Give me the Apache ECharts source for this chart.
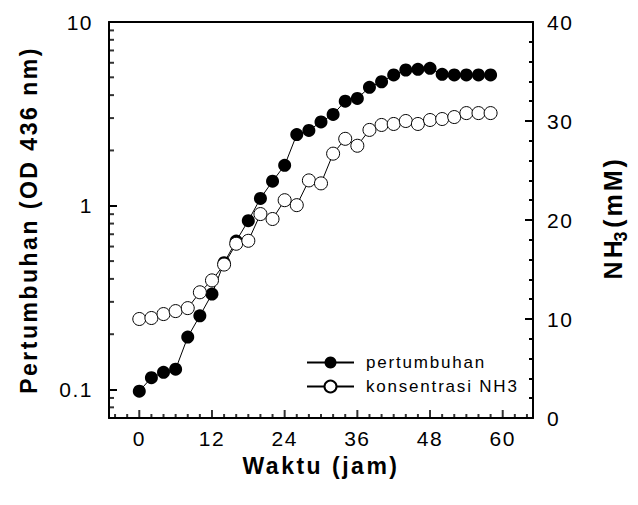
<!DOCTYPE html>
<html>
<head>
<meta charset="utf-8">
<script src="https://cdn.jsdelivr.net/npm/echarts@6/dist/echarts.min.js"></script>
<style>
	html, body { margin: 0; padding: 0; background: #fff; }
	#chart { width: 638px; height: 505px; }
	/* the original figure uses loose letter spacing */
	#chart text { letter-spacing: 1.5px; }
	#chart text[style*="17px"] { letter-spacing: 1.8px; }
	#chart text[style*="bold"] { letter-spacing: 2.5px; }
	#chart text[style*="25px"] { letter-spacing: 3px; }
</style>
</head>
<body>
<div id="chart"></div>
<script>
// waktu (jam)
const hours = [0, 2, 4, 6, 8, 10, 12, 14, 16, 18, 20, 22, 24, 26, 28,
	30, 32, 34, 36, 38, 40, 42, 44, 46, 48, 50, 52, 54, 56, 58];
// pertumbuhan, OD 436 nm
const growth = [0.098, 0.116, 0.124, 0.129, 0.193, 0.252, 0.331, 0.49, 0.643, 0.83,
	1.097, 1.36, 1.66, 2.44, 2.57, 2.86, 3.14, 3.71, 3.84, 4.41,
	4.73, 5.15, 5.48, 5.53, 5.6, 5.19, 5.15, 5.15, 5.15, 5.15];
// konsentrasi NH3, mM
const nh3 = [10.0, 10.1, 10.5, 10.8, 11.1, 12.7, 13.9, 15.5, 17.6, 17.9,
	20.6, 20.1, 22.0, 21.5, 24.0, 23.7, 26.7, 28.2, 27.5, 29.1,
	29.6, 29.7, 30.0, 29.7, 30.1, 30.2, 30.4, 30.8, 30.8, 30.8];

// tick positions
const xMajor = [0, 12, 24, 36, 48, 60];
const xMinor = [-4, -2, 2, 4, 6, 8, 10, 14, 16, 18, 20, 22, 26, 28, 30, 32, 34,
	38, 40, 42, 44, 46, 50, 52, 54, 56, 58, 62, 64];
const logMinor = [0.08, 0.09, 0.2, 0.3, 0.4, 0.5, 0.6, 0.7, 0.8, 0.9,
	2, 3, 4, 5, 6, 7, 8, 9];

const FONT = "'Liberation Sans', Arial, sans-serif";
const X_MIN = -5;
const X_MAX = 65;
const Y_MIN = 0.07;
const Y_MAX = 10;
const black = '#000';
const tickLine = { color: black, width: 2 };

// small tick marks drawn as rect symbols on the library's scales
function tickSeries(data, size, offset) {
	return {
		type: 'scatter',
		xAxisIndex: 0,
		yAxisIndex: 0,
		silent: true,
		clip: false,
		z: 5,
		data: data,
		symbol: 'rect',
		symbolSize: size,
		symbolOffset: offset,
		itemStyle: { color: black }
	};
}

const chart = echarts.init(document.getElementById('chart'), null, { renderer: 'svg' });

const option = {
	animation: false,
	grid: { left: 109, right: 99, top: 22, bottom: 87 },
	legend: {
		orient: 'vertical',
		left: 301,
		top: 349,
		padding: 5,
		itemWidth: 47,
		itemHeight: 15,
		itemGap: 7,
		data: ['pertumbuhan', 'konsentrasi NH3'],
		textStyle: { fontFamily: FONT, fontSize: 17, color: black, padding: [0, 0, 0, 7] }
	},
	xAxis: [{
		type: 'value',
		min: X_MIN,
		max: X_MAX,
		interval: 1,
		name: 'Waktu (jam)',
		nameLocation: 'middle',
		nameGap: 36,
		nameTextStyle: { fontFamily: FONT, fontSize: 23, fontWeight: 'bold', color: black },
		axisLine: { show: true, onZero: false, lineStyle: tickLine },
		axisTick: { show: false },
		axisLabel: {
			margin: 10, fontFamily: FONT, fontSize: 21, color: black,
			formatter: v => (xMajor.indexOf(v) >= 0 ? String(v) : '')
		},
		splitLine: { show: false }
	}, {
		// top edge of the frame
		type: 'value',
		min: X_MIN,
		max: X_MAX,
		position: 'top',
		axisLine: { show: true, onZero: false, lineStyle: tickLine },
		axisTick: { show: false },
		axisLabel: { show: false },
		splitLine: { show: false }
	}],
	yAxis: [{
		type: 'log',
		logBase: 10,
		min: Y_MIN,
		max: Y_MAX,
		name: 'Pertumbuhan (OD 436 nm)',
		nameLocation: 'middle',
		nameRotate: 90,
		nameGap: 69,
		nameTextStyle: { fontFamily: FONT, fontSize: 23, fontWeight: 'bold', color: black },
		axisLine: { show: true, onZero: false, lineStyle: tickLine },
		axisTick: { show: true, inside: true, length: 8, lineStyle: tickLine },
		axisLabel: { showMinLabel: false, margin: 16, fontFamily: FONT, fontSize: 21, color: black },
		splitLine: { show: false }
	}, {
		type: 'value',
		min: 0,
		max: 40,
		interval: 10,
		position: 'right',
		name: '{a|NH}{s|3}{a| (mM)}',
		nameLocation: 'middle',
		nameRotate: 90,
		nameGap: 63,
		nameTextStyle: {
			rich: {
				a: { fontFamily: FONT, fontSize: 25, fontWeight: 'bold', color: black, lineHeight: 34, verticalAlign: 'middle' },
				s: { fontFamily: FONT, fontSize: 18, fontWeight: 'bold', color: black, lineHeight: 34, padding: [16, 0, 0, 0], verticalAlign: 'bottom' }
			}
		},
		axisLine: { show: true, onZero: false, lineStyle: tickLine },
		axisTick: { show: true, inside: true, length: 8, lineStyle: tickLine },
		minorTick: { show: true, splitNumber: 5, length: 4, lineStyle: tickLine },
		axisLabel: { margin: 14, fontFamily: FONT, fontSize: 21, color: black },
		splitLine: { show: false }
	}],
	series: [{
		name: 'pertumbuhan',
		type: 'line',
		xAxisIndex: 0,
		yAxisIndex: 0,
		data: hours.map((h, i) => [h, growth[i]]),
		symbol: 'circle',
		symbolSize: 13,
		itemStyle: { color: black },
		lineStyle: { color: black, width: 1 }
	}, {
		name: 'konsentrasi NH3',
		type: 'line',
		xAxisIndex: 0,
		yAxisIndex: 1,
		data: hours.map((h, i) => [h, nh3[i]]),
		symbol: 'circle',
		symbolSize: 13,
		itemStyle: { color: '#fff', borderColor: black, borderWidth: 1 },
		lineStyle: { color: black, width: 1 }
	},
	tickSeries(logMinor.map(v => [X_MIN, v]), [5, 2], [2.5, 0]),
	tickSeries(xMajor.map(t => [t, Y_MIN]), [2, 8], [0, -4]),
	tickSeries(xMinor.map(t => [t, Y_MIN]), [2, 4], [0, -2])
	]
};

chart.setOption(option);
</script>
</body>
</html>
